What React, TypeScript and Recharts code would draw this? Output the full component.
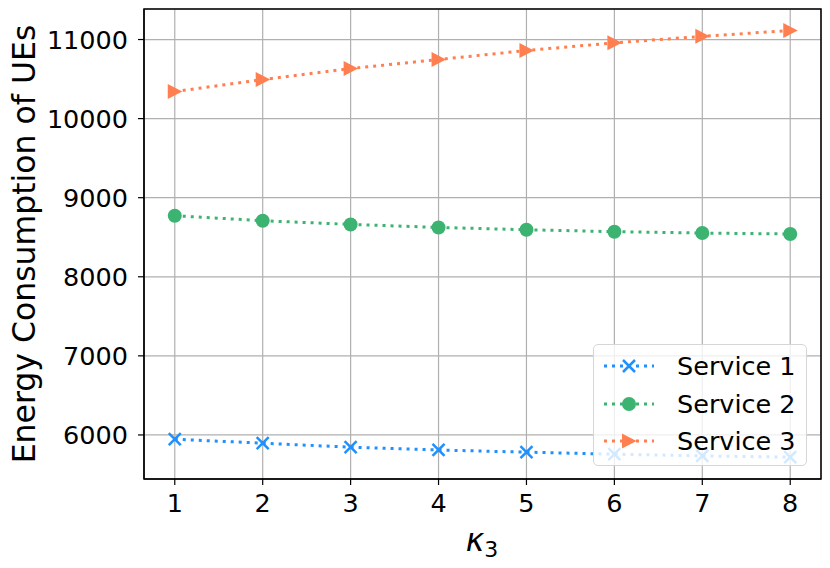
import { LineChart, Line, XAxis, YAxis, CartesianGrid, ReferenceArea } from "recharts";

// kappa_3 values on the x axis
const kappa = [1, 2, 3, 4, 5, 6, 7, 8];
const service1 = [5946, 5896, 5845, 5810, 5782, 5757, 5735, 5719];
const service2 = [8772, 8709, 8662, 8624, 8595, 8570, 8553, 8541];
const service3 = [10342, 10494, 10633, 10747, 10861, 10958, 11040, 11114];
const yTicks = [6000, 7000, 8000, 9000, 10000, 11000];
const xDomain = [0.65, 8.35];
const yDomain = [5443, 11386];

const BLUE = "#1E90FF";
const GREEN = "#3CB371";
const CORAL = "#FF7F50";
const FONT = "'DejaVu Sans', sans-serif";

const data = kappa.map((k, i) => ({
  k,
  s1: service1[i],
  s2: service2[i],
  s3: service3[i],
}));

const Cross = ({ cx, cy, color }: any) => (
  <g>
    <line x1={cx - 6} y1={cy - 6} x2={cx + 6} y2={cy + 6} stroke={color} strokeWidth={2.5} />
    <line x1={cx - 6} y1={cy + 6} x2={cx + 6} y2={cy - 6} stroke={color} strokeWidth={2.5} />
  </g>
);
const Dot = ({ cx, cy, color }: any) => <circle cx={cx} cy={cy} r={7} fill={color} />;
const Tri = ({ cx, cy, color }: any) => (
  <polygon points={`${cx + 7.5},${cy} ${cx - 7},${cy - 7.5} ${cx - 7},${cy + 7.5}`} fill={color} />
);

const series = [
  { key: "s1", name: "Service 1", color: BLUE, Marker: Cross },
  { key: "s2", name: "Service 2", color: GREEN, Marker: Dot },
  { key: "s3", name: "Service 3", color: CORAL, Marker: Tri },
];

const tickStyle = { fontFamily: FONT, fontSize: 25.5, fill: "#000" };

export default function App() {
  return (
    <div style={{ position: "absolute", left: 0, top: 0, width: 830, height: 568, background: "#fff" }}>
      <LineChart width={830} height={568} data={data} margin={{ top: 9, right: 9, bottom: 0, left: 0 }}>
        <CartesianGrid stroke="#b0b0b0" strokeWidth={1.2} />
        <XAxis
          dataKey="k"
          type="number"
          domain={xDomain}
          ticks={kappa}
          height={89}
          tick={tickStyle}
          tickSize={6}
          tickMargin={9}
          stroke="#000"
          tickLine={{ stroke: "#000", strokeWidth: 1.2 }}
        />
        <YAxis
          type="number"
          domain={yDomain}
          ticks={yTicks}
          width={144}
          tick={tickStyle}
          tickSize={6}
          tickMargin={10}
          stroke="#000"
          tickLine={{ stroke: "#000", strokeWidth: 1.2 }}
          allowDataOverflow
        />
        {series.map(({ key, color, Marker }) => (
          <Line
            key={key}
            dataKey={key}
            stroke={color}
            strokeWidth={3}
            strokeDasharray="3 5"
            isAnimationActive={false}
            dot={(p: any) => <Marker key={`${key}-${p.index}`} cx={p.cx} cy={p.cy} color={color} />}
            activeDot={false}
          />
        ))}
        <ReferenceArea
          x1={xDomain[0]}
          x2={xDomain[1]}
          y1={yDomain[0]}
          y2={yDomain[1]}
          fill="none"
          stroke="#000"
          strokeWidth={1.5}
          ifOverflow="visible"
        />
      </LineChart>

      <div
        style={{
          position: "absolute",
          left: 24,
          top: 244,
          transform: "translate(-50%, -50%) rotate(-90deg)",
          whiteSpace: "nowrap",
          fontFamily: FONT,
          fontSize: 31.5,
          color: "#000",
        }}
      >
        Energy Consumption of UEs
      </div>

      <div
        style={{
          position: "absolute",
          left: 482,
          top: 540,
          transform: "translate(-50%, -50%)",
          whiteSpace: "nowrap",
          fontFamily: FONT,
          fontSize: 31.5,
          color: "#000",
        }}
      >
        <span style={{ fontStyle: "italic" }}>κ</span>
        <span style={{ fontSize: 22, position: "relative", top: 6 }}>3</span>
      </div>

      <div
        style={{
          position: "absolute",
          left: 593,
          top: 344,
          width: 214,
          height: 122,
          boxSizing: "border-box",
          border: "1.5px solid #d6d6d6",
          borderRadius: 5,
          background: "rgba(255,255,255,0.8)",
        }}
      >
        {series.map(({ key, name, color, Marker }, i) => (
          <div key={key} style={{ position: "absolute", left: 0, top: 3 + i * 37.5, height: 36, display: "flex", alignItems: "center" }}>
            <svg width={72} height={36} style={{ display: "block" }}>
              <line x1={10} y1={18} x2={60} y2={18} stroke={color} strokeWidth={3} strokeDasharray="3 5" />
              <Marker cx={35} cy={18} color={color} />
            </svg>
            <span style={{ fontFamily: FONT, fontSize: 25.5, marginLeft: 11, color: "#000" }}>{name}</span>
          </div>
        ))}
      </div>
    </div>
  );
}
